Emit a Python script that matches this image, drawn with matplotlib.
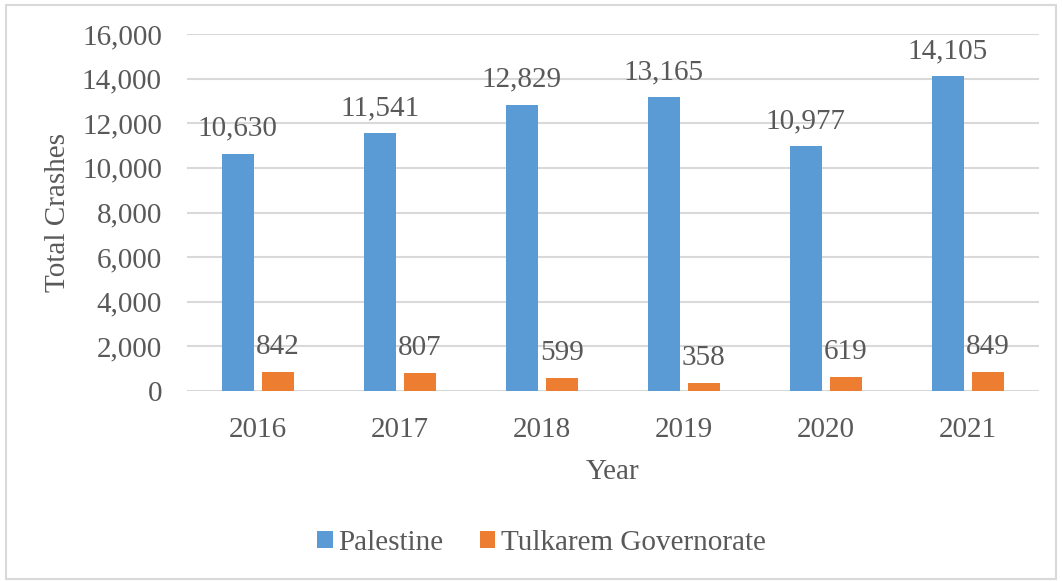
import numpy as np
import matplotlib.pyplot as plt
from matplotlib.patches import Rectangle
from matplotlib.ticker import FuncFormatter

years = ["2016", "2017", "2018", "2019", "2020", "2021"]
palestine = [10630, 11541, 12829, 13165, 10977, 14105]
tulkarem = [842, 807, 599, 358, 619, 849]
series_names = ["Palestine", "Tulkarem Governorate"]

plt.rcParams["font.family"] = ["Liberation Serif", "DejaVu Serif"]
text_color = "#595959"
blue = "#5B9BD5"
orange = "#ED7D31"
fs = 21

fig = plt.figure(figsize=(10.62, 5.81), dpi=100, facecolor="white")
fig.patches.append(Rectangle((0.006, 0.004), 0.988, 0.987, transform=fig.transFigure,
                             fill=False, edgecolor="#d9d9d9", linewidth=1.5))
ax = fig.add_axes([0.176, 0.327, 0.802, 0.6145])

x = np.arange(len(years))
w = 0.225
off = 0.141
b1 = ax.bar(x - off, palestine, w, color=blue, label=series_names[0], zorder=3)
b2 = ax.bar(x + off, tulkarem, w, color=orange, label=series_names[1], zorder=3)

for bars, vals in [(b1, palestine), (b2, tulkarem)]:
    for rect, v in zip(bars, vals):
        ax.annotate(f"{v:,}", (rect.get_x() + rect.get_width() / 2, v),
                    xytext=(0, 13), textcoords="offset points",
                    ha="center", va="baseline", fontsize=fs, color=text_color)

ax.set_xlim(-0.5, len(years) - 0.5)
ax.set_ylim(0, 16000)
ax.set_yticks(np.arange(0, 16001, 2000))
ax.yaxis.set_major_formatter(FuncFormatter(lambda v, p: f"{int(v):,}"))
ax.set_xticks(x)
ax.set_xticklabels(years)
ax.tick_params(length=0, labelsize=fs, labelcolor=text_color)
ax.tick_params(axis="x", pad=19)
ax.tick_params(axis="y", pad=18)
ax.grid(axis="y", color="#d9d9d9", linewidth=1.5, zorder=0)
for s in ax.spines.values():
    s.set_visible(False)

ax.set_ylabel("Total Crashes", fontsize=fs, color=text_color, labelpad=8)
ax.set_xlabel("Year", fontsize=fs, color=text_color, labelpad=11)

fig.legend(handles=[b1, b2], loc="center", bbox_to_anchor=(0.51, 0.066), ncol=2,
           frameon=False, fontsize=fs, handlelength=0.52, handleheight=0.52,
           handletextpad=0.2, columnspacing=1.25, labelcolor=text_color)

fig.savefig("out.png", dpi=100, facecolor="white")
